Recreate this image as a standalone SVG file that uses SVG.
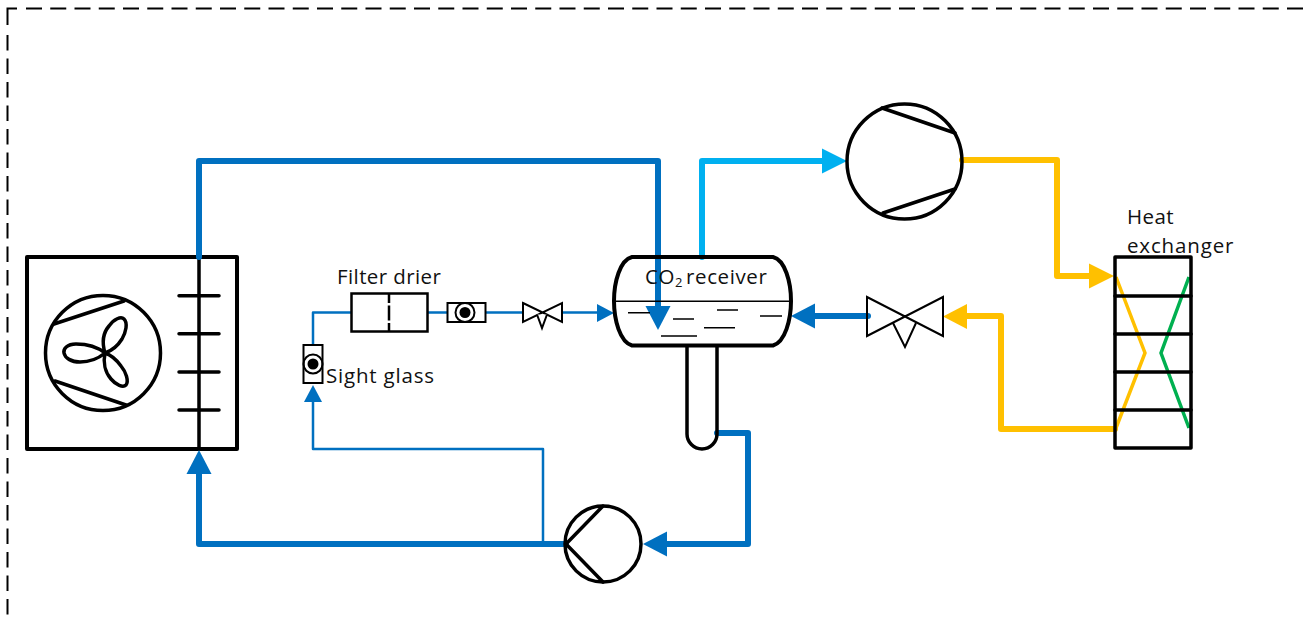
<svg xmlns="http://www.w3.org/2000/svg" width="1304" height="619" viewBox="0 0 1304 619">
<style>
.pipe{fill:none;stroke-width:6;stroke-linejoin:round;stroke-linecap:round}
.thin{fill:none;stroke:#0070C0;stroke-width:2.5;stroke-linejoin:round}
.blue{stroke:#0070C0}.cyan{stroke:#00B0F0}.yel{stroke:#FFC000}
.k{fill:none;stroke:#000;stroke-width:3.500;stroke-linecap:round;stroke-linejoin:round}
.k2{fill:none;stroke:#000;stroke-width:2;stroke-linejoin:miter}
.w{fill:#fff}
text{font-family:"Open Sans","Noto Sans","Liberation Sans",sans-serif;font-size:20.500px;letter-spacing:.4px;fill:#111}
</style>
<rect width="1304" height="619" fill="#fff"/>
<g id="frame" fill="none" stroke="#000" stroke-width="2">
<path d="M17 8.500H7.500V25"/>
<path d="M26 8.500H1304" stroke-dasharray="16 8.250"/>
<path d="M7.500 35V619" stroke-dasharray="15.500 8"/>
</g>
<g id="condenser">
<rect class="k" x="27" y="257" width="210" height="192" style="stroke-width:4"/>
<circle class="k" cx="103" cy="353" r="57.500"/>
<path class="k" d="M54 324L124 301M55 381L126 405"/>
<path class="k" d="M105 353C95 345 84 344 76 344C67 344 63 349 64 353C65 358 71 362 80 362C90 362 99 358 105 353ZM105 353C102 343 103 333 109 326C114 319 121 316 124 319C128 323 126 332 122 339C117 347 111 351 105 353ZM105 353C103 362 105 372 111 379C116 385 123 388 126 385C129 381 126 372 121 366C116 359 111 355 105 353Z"/>
<path class="k" d="M199 257V449M179 295.700H219M179 333.700H219M179 372H219M179 410H219"/>
</g>
<g id="connectors">
<path class="pipe blue" d="M199 257V161H658V310"/>
<path d="M645.500 306H670.500L658 330Z" fill="#0070C0"/>
<path class="pipe blue" d="M717 433H748V544H665"/>
<path d="M667 531.500V556.500L643 544Z" fill="#0070C0"/>
<path class="pipe blue" d="M566 544H199V472"/>
<path d="M186.500 474H211.500L199 450Z" fill="#0070C0"/>
<path class="thin" d="M543 544V449H313V400"/>
<path d="M304 402H322L313 385Z" fill="#0070C0"/>
<path class="thin" d="M313 345V312.500H351M428 312.500H447M485 312.500H523M562 312.500H600"/>
<path d="M597 304V322L614 313Z" fill="#0070C0"/>
<path class="pipe cyan" d="M702 257V161H824"/>
<path d="M822 148.500V173.500L847 161Z" fill="#00B0F0"/>
<path class="pipe yel" d="M962 160H1057V276H1092"/>
<path d="M1089 263.500V288.500L1114 276Z" fill="#FFC000"/>
<path class="pipe yel" d="M1115 429H1001V316H965"/>
<path d="M967 304V329L943 316.500Z" fill="#FFC000"/>
<path class="pipe blue" d="M868 316H813"/>
<path d="M815 303.500V328.500L791 316Z" fill="#0070C0"/>
</g>
<g id="filter-drier">
<rect class="k2 w" x="351.500" y="293.500" width="76" height="38" style="stroke-width:2.500"/>
<path class="k2" d="M389 294V332" stroke-dasharray="9 2.500 15 2.500 9" style="stroke-width:2.500"/>
<text x="337" y="284">Filter drier</text>
</g>
<g id="sight-glass-h">
<rect class="k2 w" x="447.500" y="303" width="38" height="19"/>
<circle class="k2" cx="465" cy="312.500" r="9.500"/>
<circle cx="465" cy="312.500" r="5.500"/>
</g>
<g id="valve-small">
<path class="k2 w" d="M523 303L562 322V303L523 322Z"/>
<path class="k2 w" d="M537 314.500L542 328L547 314.500"/>
</g>
<g id="sight-glass-v">
<rect class="k2 w" x="303.500" y="345" width="19" height="38"/>
<circle class="k2" cx="313" cy="364" r="9.500"/>
<circle cx="313" cy="364" r="5.500"/>
<text x="326" y="383" style="letter-spacing:.8px">Sight glass</text>
</g>
<g id="receiver">
<path class="k" style="stroke-width:4" d="M632 257H773C785 260 791 282 791 301C791 320 785 342 773 345.500H632C620 342 614 320 614 301C614 282 620 260 632 257Z"/>
<path d="M614 301.300H791" stroke="#000" stroke-width="1.500"/>
<path d="M628 312.700H650M673 319H694M717 310H738M760 316H782M704 327.700H735M661 336H697" stroke="#000" stroke-width="1.500"/>
<path class="k" d="M687 346V434A15 15 0 0 0 717 434V346"/>
<text x="645" y="284" style="letter-spacing:.6px">CO<tspan font-size="13" dy="3">2</tspan><tspan dy="-3" dx="3">receiver</tspan></text>
</g>
<g id="compressor">
<circle class="k" cx="904.500" cy="161.500" r="57.500"/>
<path class="k" d="M882 108L955 133M883 213L955 189"/>
</g>
<g id="pump">
<circle class="k" cx="603" cy="544" r="38"/>
<path class="k" d="M603 506L566 544L603 582"/>
</g>
<g id="expansion-valve">
<path class="k2" d="M867 297L943 336V297L867 336Z"/>
<path class="k2" d="M893 323L905 347L916 323"/>
</g>
<g id="heat-exchanger">
<path d="M1116 277L1145 353L1116 428" fill="none" stroke="#FFC000" stroke-width="3.500"/>
<path d="M1189 277L1161 353L1189 428" fill="none" stroke="#00B050" stroke-width="3.500"/>
<rect class="k" x="1115" y="257" width="76" height="191"/>
<path class="k" d="M1115 296H1191M1115 334H1191M1115 372H1191M1115 410H1191"/>
<text x="1127" y="224">Heat</text>
<text x="1127" y="253" style="letter-spacing:.85px">exchanger</text>
</g>
</svg>
